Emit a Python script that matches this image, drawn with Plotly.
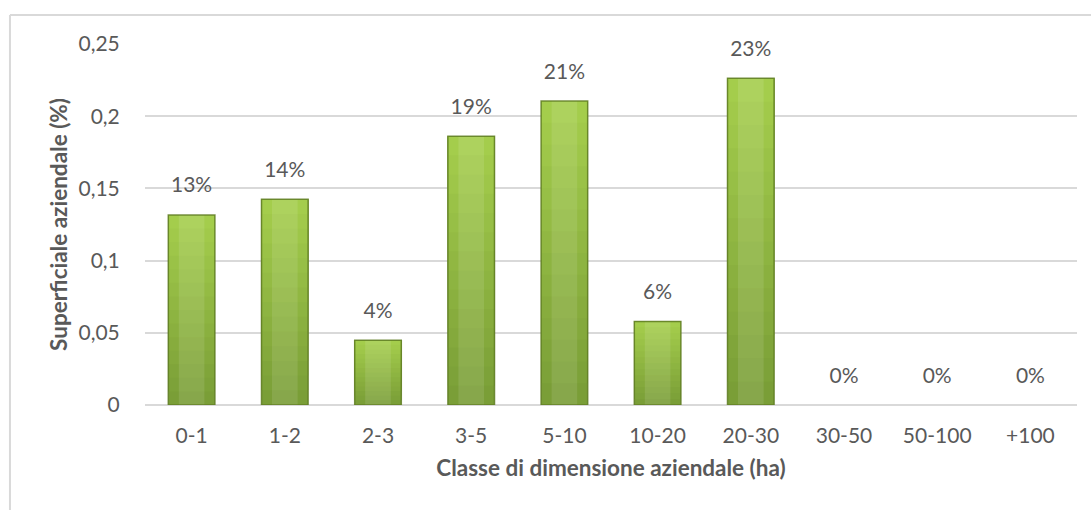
import plotly.graph_objects as go

# Farm size classes (ha) and share of farmland
classi = ["0-1", "1-2", "2-3", "3-5", "5-10", "10-20", "20-30", "30-50", "50-100", "+100"]
superficie = [0.1316, 0.1424, 0.0449, 0.1862, 0.2105, 0.0579, 0.2262, 0.0, 0.0, 0.0]

y_ticks = [0, 0.05, 0.1, 0.15, 0.2, 0.25]

FONT = "Lato, Carlito, Calibri, sans-serif"
TXT = "#595959"
GRID = "#d9d9d9"
BAR_W = 0.5

fig = go.Figure()

# vertical shading: overlapping layers, each one starting higher and lighter,
# so the bar goes from a darker green at the bottom to a lighter one at the top
n_bands = 14
bottom_rgb = (122, 158, 55)
top_rgb = (164, 205, 76)
for i in range(n_bands):
    t = i / (n_bands - 1)
    rgb = tuple(round(b + (tp - b) * t) for b, tp in zip(bottom_rgb, top_rgb))
    fig.add_trace(go.Bar(
        x=classi,
        y=[v * (n_bands - i) / n_bands for v in superficie],
        base=[v * i / n_bands for v in superficie],
        width=BAR_W,
        marker=dict(color="rgb(%d,%d,%d)" % rgb, line=dict(width=0)),
        hoverinfo="skip",
        showlegend=False,
    ))

# soft highlight in the middle of each bar
fig.add_trace(go.Bar(
    x=classi, y=superficie, width=BAR_W * 0.55,
    marker=dict(color="rgba(255,255,255,0.10)", line=dict(width=0)),
    hoverinfo="skip", showlegend=False,
))

# darker outline around each non-empty bar
fig.add_trace(go.Bar(
    x=classi, y=superficie, width=BAR_W,
    marker=dict(color="rgba(0,0,0,0)",
                line=dict(color="rgba(95,125,35,0.85)",
                          width=[1.5 if v > 0 else 0 for v in superficie])),
    hoverinfo="skip", showlegend=False,
))

# value labels (invisible markers keep the text a little above the bar)
fig.add_trace(go.Scatter(
    x=classi, y=superficie,
    mode="markers+text",
    marker=dict(size=26, color="rgba(0,0,0,0)"),
    texttemplate="%{y:.0%}",
    textposition="top center",
    textfont=dict(family=FONT, size=21, color=TXT),
    hoverinfo="skip", showlegend=False,
    cliponaxis=False,
))

fig.update_layout(
    width=1091, height=510,
    barmode="overlay",
    separators=",.",
    paper_bgcolor="white",
    plot_bgcolor="white",
    margin=dict(l=145, r=14, t=44, b=105),
    font=dict(family=FONT, size=21, color=TXT),
    xaxis=dict(
        type="category",
        range=[-0.5, len(classi) - 0.5],
        showgrid=False,
        showline=False,
        ticks="outside", ticklen=12, tickcolor="rgba(0,0,0,0)",
        tickfont=dict(family=FONT, size=21, color=TXT),
        title=dict(text="<b>Classe di dimensione aziendale (ha)</b>",
                   font=dict(family=FONT, size=22.5, color=TXT), standoff=14),
    ),
    yaxis=dict(
        range=[0, 0.25],
        tickvals=y_ticks,
        showgrid=True, gridcolor=GRID, gridwidth=1.5,
        zeroline=True, zerolinecolor=GRID, zerolinewidth=2,
        showline=False,
        ticks="outside", ticklen=20, tickcolor="rgba(0,0,0,0)",
        tickfont=dict(family=FONT, size=21, color=TXT),
        title=dict(text="<b>Superficiale aziendale (%)</b>",
                   font=dict(family=FONT, size=22.5, color=TXT), standoff=4),
    ),
    shapes=[
        # chart frame (left and top edges)
        dict(type="line", xref="paper", yref="paper",
             x0=-0.1449, x1=-0.1449, y0=1.08, y1=-0.35,
             line=dict(color=GRID, width=2)),
        dict(type="line", xref="paper", yref="paper",
             x0=-0.1449, x1=1.1, y0=1.08, y1=1.08,
             line=dict(color=GRID, width=2)),
    ],
)

fig.write_html("out.html")
